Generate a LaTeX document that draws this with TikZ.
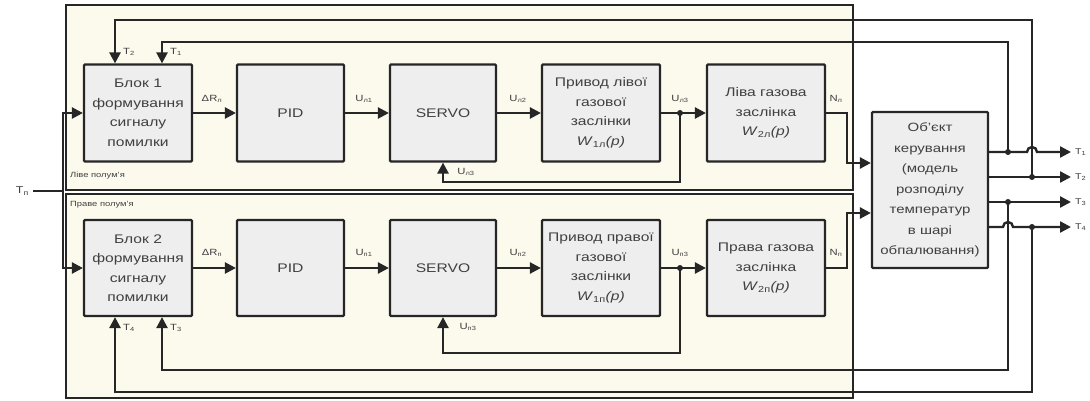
\documentclass[tikz,border=0pt]{standalone}
\usepackage{fontspec}
\setmainfont[FakeStretch=1.25]{Liberation Sans}
\usetikzlibrary{arrows.meta,calc}
\definecolor{panelfill}{HTML}{FCFAEC}
\definecolor{boxfill}{HTML}{EEEEEE}
\definecolor{ln}{HTML}{262626}
\definecolor{txt}{HTML}{404040}
\begin{document}
\begin{tikzpicture}[x=1pt,y=-1pt,
  blk/.style={draw=ln, line width=2.2pt, fill=boxfill, rounded corners=1pt, align=center,
    text=txt, font=\fontsize{12.5}{19.5}\selectfont, inner sep=0pt},
  conn/.style={draw=ln, line width=2.4pt, -{Triangle[length=11pt,width=11pt]}},
  wire/.style={draw=ln, line width=2.4pt},
  lbl/.style={text=txt, font=\fontsize{9}{10}\selectfont, inner sep=0pt},
  olbl/.style={text=txt, font=\fontsize{8.5}{9}\selectfont, inner sep=0pt, anchor=west},
  plbl/.style={text=txt, font=\fontsize{7.5}{8}\selectfont, inner sep=0pt, anchor=west},
  panel/.style={draw=ln, line width=2pt, fill=panelfill},
  dot/.style={circle, fill=ln, inner sep=0pt, minimum size=6pt}]
\useasboundingbox (0,0) rectangle (1090,401);
% panels
\draw[panel] (66,5) rectangle (853,190);
\draw[panel] (66,194) rectangle (853,398);
\node[plbl] (pl1) at (70,176) {Ліве полум'я};
\node[plbl] (pl2) at (70,205) {Праве полум'я};
% blocks top
\node[blk, minimum width=108pt, minimum height=97pt] (b1) at (138,113) {Блок 1\\формування\\сигналу\\помилки};
\node[blk, minimum width=107pt, minimum height=97pt] (p1) at (290.5,113) {PID};
\node[blk, minimum width=106pt, minimum height=97pt] (s1) at (443,113) {SERVO};
\node[blk, minimum width=118pt, minimum height=97pt] (d1) at (601,113) {Привод лівої\\газової\\заслінки\\\textit{W}\textsubscript{1л}\textit{(p)}};
\node[blk, minimum width=118pt, minimum height=97pt] (v1) at (766,113) {Ліва газова\\заслінка\\\textit{W}\textsubscript{2л}\textit{(p)}};
% blocks bottom
\node[blk, minimum width=108pt, minimum height=96pt] (b2) at (138,268) {Блок 2\\формування\\сигналу\\помилки};
\node[blk, minimum width=107pt, minimum height=96pt] (p2) at (290.5,268) {PID};
\node[blk, minimum width=106pt, minimum height=96pt] (s2) at (443,268) {SERVO};
\node[blk, minimum width=118pt, minimum height=96pt] (d2) at (601,268) {Привод правої\\газової\\заслінки\\\textit{W}\textsubscript{1п}\textit{(p)}};
\node[blk, minimum width=118pt, minimum height=96pt] (v2) at (766,268) {Права газова\\заслінка\\\textit{W}\textsubscript{2п}\textit{(p)}};
% object
\node[blk, minimum width=116pt, minimum height=156pt, font=\fontsize{12}{20.5}\selectfont] (obj) at (930,190) {Об'єкт\\керування\\(модель\\розподілу\\температур\\в шарі\\обпалювання)};
% input
\node[lbl, anchor=east, font=\fontsize{10}{11}\selectfont] (tn) at (29,191) {Т\textsubscript{п}};
\coordinate (tin) at (33,191);
\coordinate (bus) at (63,191);
\draw[wire] (tin) -- (bus);
\draw[conn] (bus) |- (b1.west);
\draw[conn] (bus) |- (b2.west);
% forward chains
\draw[conn] (b1) -- (p1);
\draw[conn] (p1) -- (s1);
\draw[conn] (s1) -- (d1);
\draw[conn] (d1) -- (v1);
\draw[conn] (b2) -- (p2);
\draw[conn] (p2) -- (s2);
\draw[conn] (s2) -- (d2);
\draw[conn] (d2) -- (v2);
\node[lbl] (l1) at (212,99) {ΔR\textsubscript{л}};
\node[lbl] (l2) at (364,99) {U\textsubscript{л1}};
\node[lbl] (l3) at (518,99) {U\textsubscript{л2}};
\node[lbl] (l4) at (680,99) {U\textsubscript{л3}};
\node[lbl] (l5) at (836,99) {N\textsubscript{л}};
\node[lbl] (l6) at (212,253) {ΔR\textsubscript{п}};
\node[lbl] (l7) at (364,253) {U\textsubscript{п1}};
\node[lbl] (l8) at (518,253) {U\textsubscript{п2}};
\node[lbl] (l9) at (680,253) {U\textsubscript{п3}};
\node[lbl] (l10) at (836,253) {N\textsubscript{п}};
% servo feedback
\node[dot] (j1) at (680,113) {};
\node[dot] (j2) at (680,268) {};
\coordinate (f1) at (680,182);
\coordinate (f2) at (680,353);
\draw[conn] (j1.center) -- (f1) -| (s1.south);
\draw[conn] (j2.center) -- (f2) -| (s2.south);
\node[lbl] (l11) at (466,172) {U\textsubscript{л3}};
\node[lbl] (l12) at (468,327) {U\textsubscript{п3}};
% valve outputs to object
\coordinate (y163) at (0,163);
\coordinate (y213) at (0,213);
\draw[conn] (v1.east) -- (847,113) |- (obj.west |- y163);
\draw[conn] (v2.east) -- (847,268) |- (obj.west |- y213);
% outputs
\coordinate (e1) at (1071,152);
\coordinate (e2) at (1071,177);
\coordinate (e3) at (1071,202);
\coordinate (e4) at (1071,227);
\draw[conn] (obj.east |- e1) -- (1027,152) arc[start angle=180,end angle=0,radius=5pt] -- (e1);
\draw[conn] (obj.east |- e2) -- (e2);
\draw[conn] (obj.east |- e3) -- (e3);
\draw[conn] (obj.east |- e4) -- (1003,227) arc[start angle=180,end angle=0,radius=5pt] -- (e4);
\node[olbl] (t1) at (1075,152) {Т\textsubscript{1}};
\node[olbl] (t2) at (1075,177) {Т\textsubscript{2}};
\node[olbl] (t3) at (1075,202) {Т\textsubscript{3}};
\node[olbl] (t4) at (1075,227) {Т\textsubscript{4}};
% feedback temperatures
\node[dot] (k1) at (1008,152) {};
\node[dot] (k2) at (1032,177) {};
\node[dot] (k3) at (1008,202) {};
\node[dot] (k4) at (1032,227) {};
\coordinate (x115) at (115,0);
\coordinate (x162) at (162,0);
\draw[conn] (k1.center) -- (1008,42) -- (162,42) -- (b1.north -| x162);
\draw[conn] (k2.center) -- (1032,20) -- (115,20) -- (b1.north -| x115);
\draw[conn] (k3.center) -- (1008,370) -- (162,370) -- (b2.south -| x162);
\draw[conn] (k4.center) -- (1032,392) -- (115,392) -- (b2.south -| x115);
\node[lbl] (t1a) at (176,52) {Т\textsubscript{1}};
\node[lbl] (t2a) at (129,52) {Т\textsubscript{2}};
\node[lbl] (t3a) at (176,328) {Т\textsubscript{3}};
\node[lbl] (t4a) at (129,328) {Т\textsubscript{4}};
\end{tikzpicture}
\end{document}
